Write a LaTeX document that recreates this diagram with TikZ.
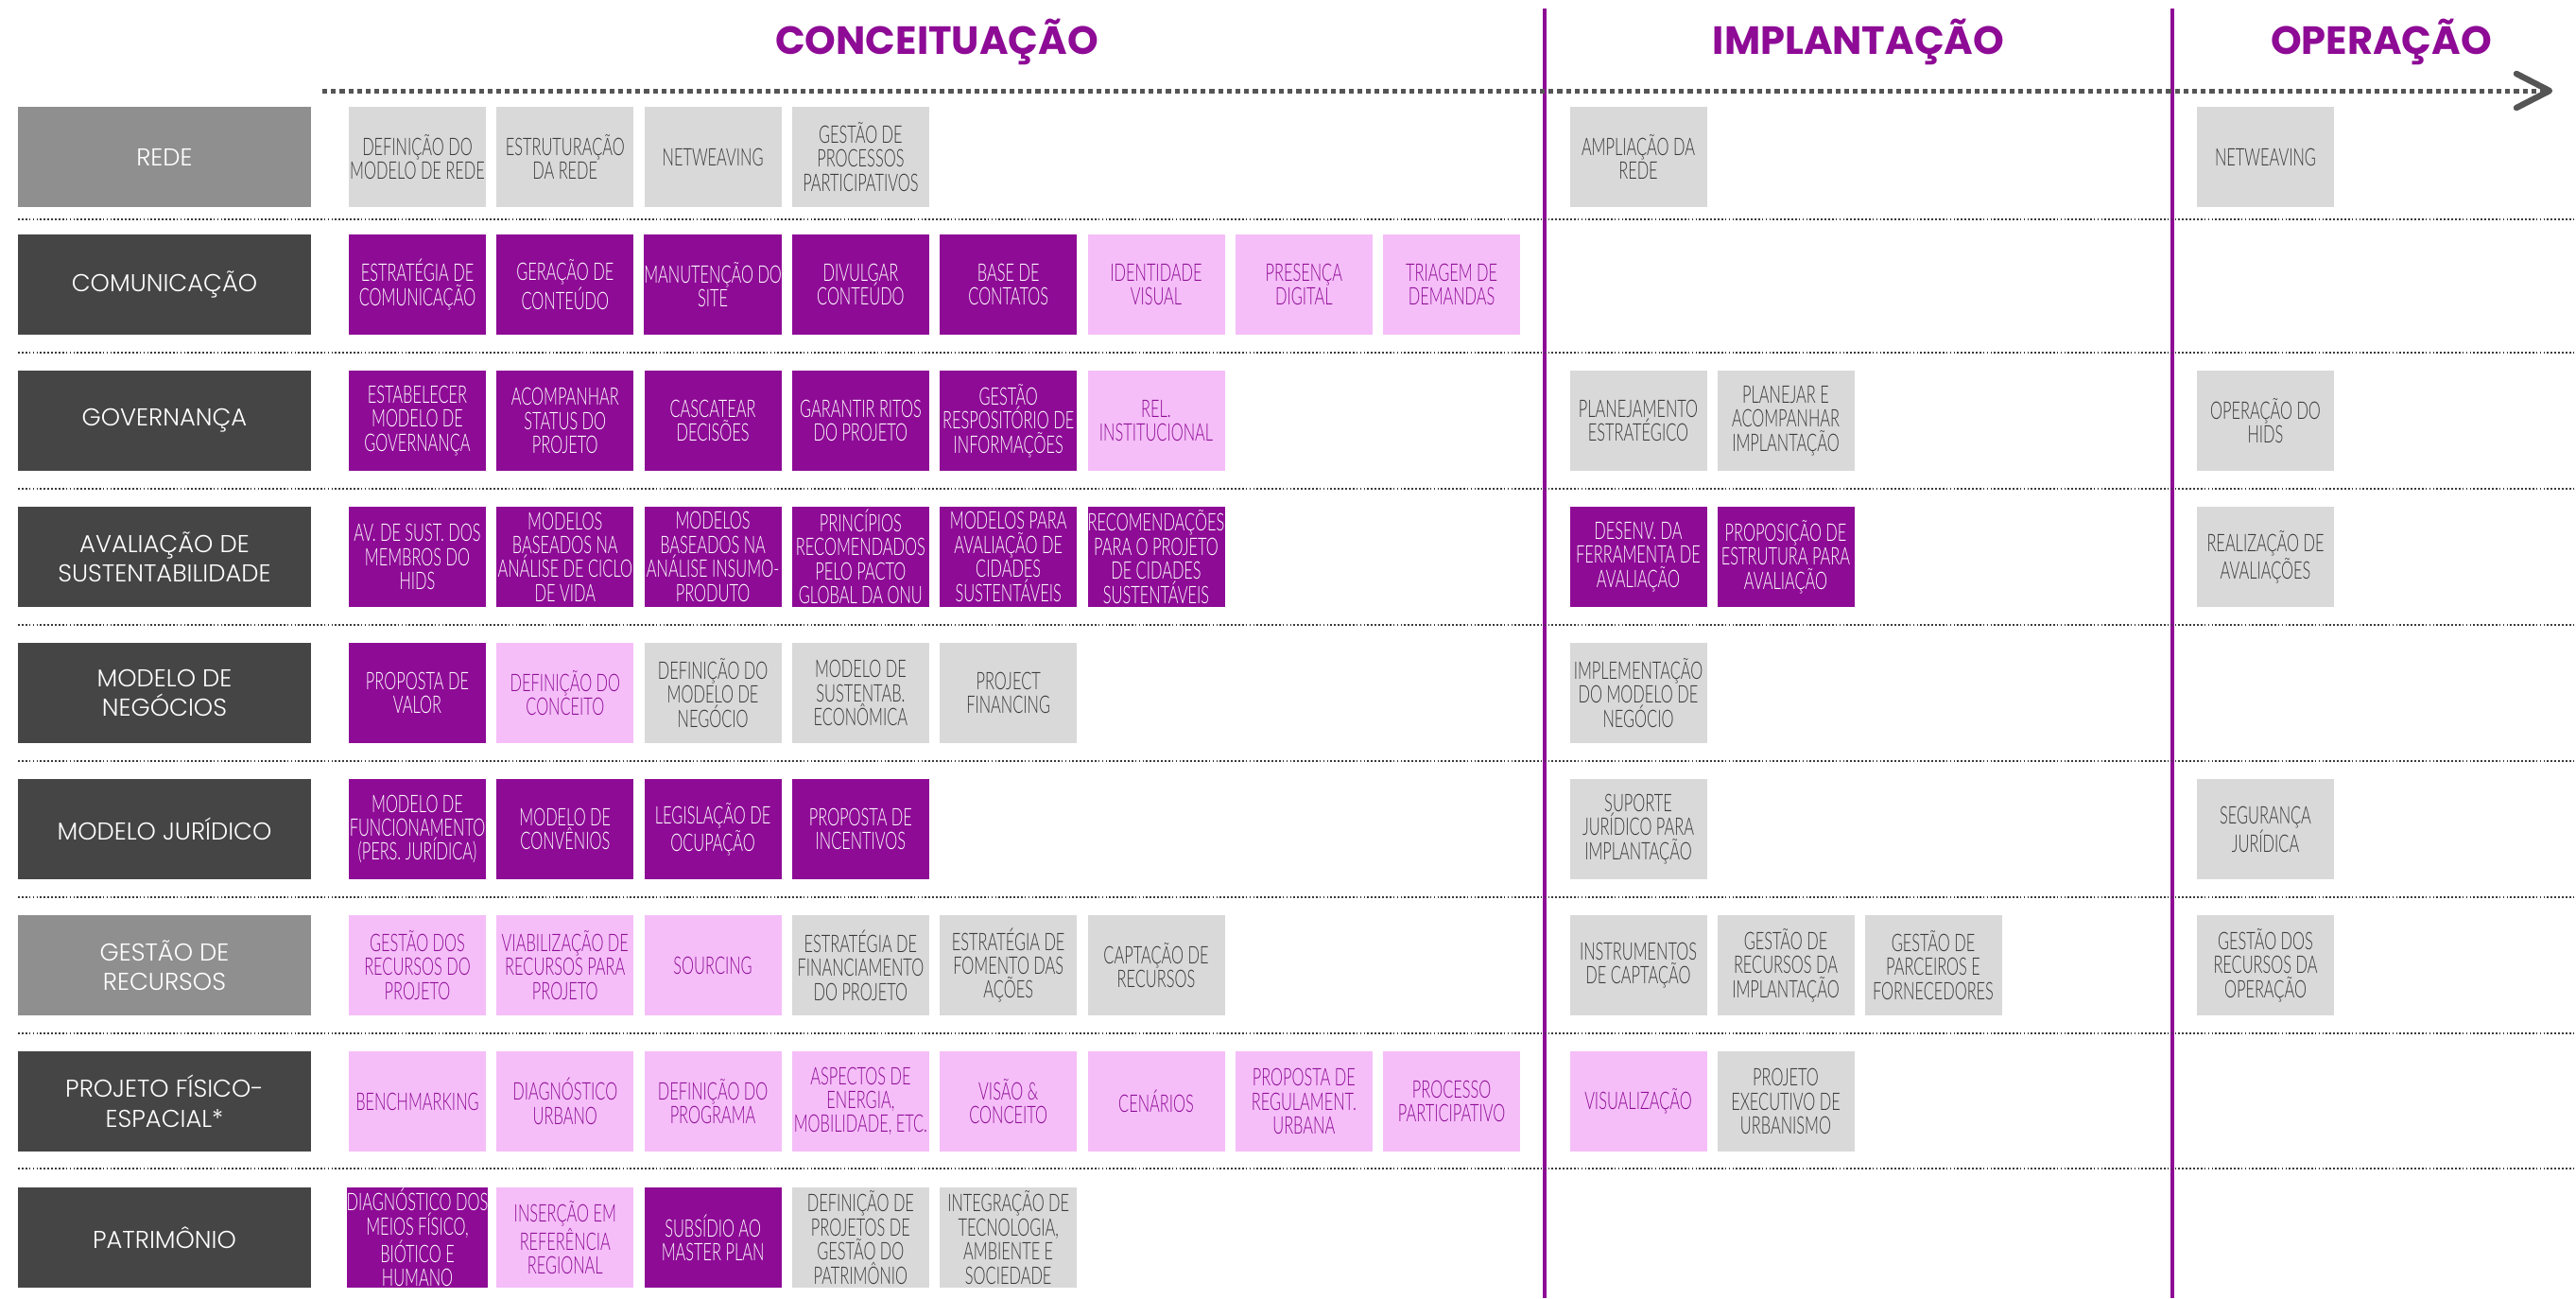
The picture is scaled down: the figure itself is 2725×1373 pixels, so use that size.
\documentclass[tikz,border=0pt]{standalone}
\usepackage{fontspec}
\setmainfont{Poppins}
\newfontfamily\catfont{Poppins Light}
\newfontfamily\boxfont[FakeStretch=0.64]{Lato Light}
\usepackage{tikz}
\definecolor{hidspurple}{RGB}{142, 11, 150}
\definecolor{hidspink}{RGB}{245, 190, 248}
\definecolor{hidsgray}{RGB}{217, 217, 217}
\definecolor{hidsdark}{RGB}{69, 69, 69}
\definecolor{hidsmid}{RGB}{143, 143, 143}
\definecolor{hidstext}{RGB}{58, 58, 58}
\definecolor{hidsline}{RGB}{85, 85, 85}

\tikzset{
  task/.style={minimum width=72.5pt, minimum height=53pt, inner sep=0pt, align=center,
    font=\boxfont\fontsize{12.8}{12.7}\selectfont},
  dk/.style={task, fill=hidspurple, text=white},
  pk/.style={task, fill=hidspink, text=hidspurple},
  gr/.style={task, fill=hidsgray, text=hidstext},
  cat/.style={minimum width=155pt, minimum height=53pt, inner sep=0pt, align=center,
    fill=hidsdark, text=white, font=\catfont\fontsize{12.9}{15.8}\selectfont},
  catmid/.style={cat, fill=hidsmid},
  phase/.style={anchor=base, text=hidspurple, font=\fontsize{20.8}{24}\selectfont\bfseries},
  phaseline/.style={draw=hidspurple, line width=2.25pt},
  sep/.style={draw=hidstext, line width=0.85pt, dash pattern=on 0.85pt off 1.1pt},
  timeline/.style={draw=hidsline, line width=2.5pt, dash pattern=on 2.6pt off 2pt},
  chevron/.style={draw=hidsline, line width=3.2pt, line cap=round, line join=round}
}

\begin{document}
\begin{tikzpicture}[x=0.5pt, y=-0.5pt]
\useasboundingbox (0,0) rectangle (2725,1373);

% fases
\node[phase] (conc) at (991,57) {CONCEITUAÇÃO};
\node[phase] (impl) at (1966,57) {IMPLANTAÇÃO};
\node[phase] (oper) at (2519,57) {OPERAÇÃO};
\draw[phaseline] (1634,9) -- (1634,1373);
\draw[phaseline] (2298,9) -- (2298,1373);

% linha do tempo
\coordinate (t0) at (341,96);
\coordinate (t1) at (2697,96);
\draw[timeline] (t0) -- ([xshift=-3pt]t1);
\draw[chevron] ([xshift=-17.5pt,yshift=9pt]t1) -- (t1) -- ([xshift=-17.5pt,yshift=-9pt]t1);

% separadores
\draw[sep] (19,232) -- (2725,232);
\draw[sep] (19,373) -- (2725,373);
\draw[sep] (19,517) -- (2725,517);
\draw[sep] (19,661) -- (2725,661);
\draw[sep] (19,805) -- (2725,805);
\draw[sep] (19,949) -- (2725,949);
\draw[sep] (19,1093) -- (2725,1093);
\draw[sep] (19,1236) -- (2725,1236);

% REDE
\node[catmid] (rede) at (174,166) {REDE};
\node[gr] (rede1) at (441.5,166) {DEFINIÇÃO DO\\MODELO DE REDE};
\node[gr] (rede2) at (597.8,166) {ESTRUTURAÇÃO\\DA REDE};
\node[gr] (rede3) at (754.1,166) {NETWEAVING};
\node[gr] (rede4) at (910.4,166) {GESTÃO DE\\PROCESSOS\\PARTICIPATIVOS};
\node[gr] (rede5) at (1733,166) {AMPLIAÇÃO DA\\REDE};
\node[gr] (rede6) at (2396.5,166) {NETWEAVING};

% COMUNICACAO
\node[cat] (com) at (174,301) {COMUNICAÇÃO};
\node[dk] (com1) at (441.5,301) {ESTRATÉGIA DE\\COMUNICAÇÃO};
\node[dk] (com2) at (597.8,301) {GERAÇÃO DE\\CONTEÚDO};
\node[dk] (com3) at (754.1,301) {MANUTENÇÃO DO\\SITE};
\node[dk] (com4) at (910.4,301) {DIVULGAR\\CONTEÚDO};
\node[dk] (com5) at (1066.7,301) {BASE DE\\CONTATOS};
\node[pk] (com6) at (1223,301) {IDENTIDADE\\VISUAL};
\node[pk] (com7) at (1379.3,301) {PRESENÇA\\DIGITAL};
\node[pk] (com8) at (1535.6,301) {TRIAGEM DE\\DEMANDAS};

% GOVERNANCA
\node[cat] (gov) at (174,445) {GOVERNANÇA};
\node[dk] (gov1) at (441.5,445) {ESTABELECER\\MODELO DE\\GOVERNANÇA};
\node[dk] (gov2) at (597.8,445) {ACOMPANHAR\\STATUS DO\\PROJETO};
\node[dk] (gov3) at (754.1,445) {CASCATEAR\\DECISÕES};
\node[dk] (gov4) at (910.4,445) {GARANTIR RITOS\\DO PROJETO};
\node[dk] (gov5) at (1066.7,445) {GESTÃO\\RESPOSITÓRIO DE\\INFORMAÇÕES};
\node[pk] (gov6) at (1223,445) {REL.\\INSTITUCIONAL};
\node[gr] (gov7) at (1733,445) {PLANEJAMENTO\\ESTRATÉGICO};
\node[gr] (gov8) at (1889,445) {PLANEJAR E\\ACOMPANHAR\\IMPLANTAÇÃO};
\node[gr] (gov9) at (2396.5,445) {OPERAÇÃO DO\\HIDS};

% AVALIACAO
\node[cat] (aval) at (174,589) {AVALIAÇÃO DE\\SUSTENTABILIDADE};
\node[dk] (aval1) at (441.5,589) {AV. DE SUST. DOS\\MEMBROS DO\\HIDS};
\node[dk] (aval2) at (597.8,589) {MODELOS\\BASEADOS NA\\ANÁLISE DE CICLO\\DE VIDA};
\node[dk] (aval3) at (754.1,589) {MODELOS\\BASEADOS NA\\ANÁLISE INSUMO-\\PRODUTO};
\node[dk] (aval4) at (910.4,589) {PRINCÍPIOS\\RECOMENDADOS\\PELO PACTO\\GLOBAL DA ONU};
\node[dk] (aval5) at (1066.7,589) {MODELOS PARA\\AVALIAÇÃO DE\\CIDADES\\SUSTENTÁVEIS};
\node[dk] (aval6) at (1223,589) {RECOMENDAÇÕES\\PARA O PROJETO\\DE CIDADES\\SUSTENTÁVEIS};
\node[dk] (aval7) at (1733,589) {DESENV. DA\\FERRAMENTA DE\\AVALIAÇÃO};
\node[dk] (aval8) at (1889,589) {PROPOSIÇÃO DE\\ESTRUTURA PARA\\AVALIAÇÃO};
\node[gr] (aval9) at (2396.5,589) {REALIZAÇÃO DE\\AVALIAÇÕES};

% MODELO DE NEGOCIOS
\node[cat] (neg) at (174,733) {MODELO DE\\NEGÓCIOS};
\node[dk] (neg1) at (441.5,733) {PROPOSTA DE\\VALOR};
\node[pk] (neg2) at (597.8,733) {DEFINIÇÃO DO\\CONCEITO};
\node[gr] (neg3) at (754.1,733) {DEFINIÇÃO DO\\MODELO DE\\NEGÓCIO};
\node[gr] (neg4) at (910.4,733) {MODELO DE\\SUSTENTAB.\\ECONÔMICA};
\node[gr] (neg5) at (1066.7,733) {PROJECT\\FINANCING};
\node[gr] (neg6) at (1733,733) {IMPLEMENTAÇÃO\\DO MODELO DE\\NEGÓCIO};

% MODELO JURIDICO
\node[cat] (jur) at (174,877) {MODELO JURÍDICO};
\node[dk] (jur1) at (441.5,877) {MODELO DE\\FUNCIONAMENTO\\(PERS. JURÍDICA)};
\node[dk] (jur2) at (597.8,877) {MODELO DE\\CONVÊNIOS};
\node[dk] (jur3) at (754.1,877) {LEGISLAÇÃO DE\\OCUPAÇÃO};
\node[dk] (jur4) at (910.4,877) {PROPOSTA DE\\INCENTIVOS};
\node[gr] (jur5) at (1733,877) {SUPORTE\\JURÍDICO PARA\\IMPLANTAÇÃO};
\node[gr] (jur6) at (2396.5,877) {SEGURANÇA\\JURÍDICA};

% GESTAO DE RECURSOS
\node[catmid] (rec) at (174,1021) {GESTÃO DE\\RECURSOS};
\node[pk] (rec1) at (441.5,1021) {GESTÃO DOS\\RECURSOS DO\\PROJETO};
\node[pk] (rec2) at (597.8,1021) {VIABILIZAÇÃO DE\\RECURSOS PARA\\PROJETO};
\node[pk] (rec3) at (754.1,1021) {SOURCING};
\node[gr] (rec4) at (910.4,1021) {ESTRATÉGIA DE\\FINANCIAMENTO\\DO PROJETO};
\node[gr] (rec5) at (1066.7,1021) {ESTRATÉGIA DE\\FOMENTO DAS\\AÇÕES};
\node[gr] (rec6) at (1223,1021) {CAPTAÇÃO DE\\RECURSOS};
\node[gr] (rec7) at (1733,1021) {INSTRUMENTOS\\DE CAPTAÇÃO};
\node[gr] (rec8) at (1889,1021) {GESTÃO DE\\RECURSOS DA\\IMPLANTAÇÃO};
\node[gr] (rec9) at (2045,1021) {GESTÃO DE\\PARCEIROS E\\FORNECEDORES};
\node[gr] (rec10) at (2396.5,1021) {GESTÃO DOS\\RECURSOS DA\\OPERAÇÃO};

% PROJETO FISICO-ESPACIAL
\node[cat] (proj) at (174,1165) {PROJETO FÍSICO-\\ESPACIAL*};
\node[pk] (proj1) at (441.5,1165) {BENCHMARKING};
\node[pk] (proj2) at (597.8,1165) {DIAGNÓSTICO\\URBANO};
\node[pk] (proj3) at (754.1,1165) {DEFINIÇÃO DO\\PROGRAMA};
\node[pk] (proj4) at (910.4,1165) {ASPECTOS DE\\ENERGIA,\\MOBILIDADE, ETC.};
\node[pk] (proj5) at (1066.7,1165) {VISÃO \&\\CONCEITO};
\node[pk] (proj6) at (1223,1165) {CENÁRIOS};
\node[pk] (proj7) at (1379.3,1165) {PROPOSTA DE\\REGULAMENT.\\URBANA};
\node[pk] (proj8) at (1535.6,1165) {PROCESSO\\PARTICIPATIVO};
\node[pk] (proj9) at (1733,1165) {VISUALIZAÇÃO};
\node[gr] (proj10) at (1889,1165) {PROJETO\\EXECUTIVO DE\\URBANISMO};

% PATRIMONIO
\node[cat] (pat) at (174,1309) {PATRIMÔNIO};
\node[dk] (pat1) at (441.5,1309) {DIAGNÓSTICO DOS\\MEIOS FÍSICO,\\BIÓTICO E\\HUMANO};
\node[pk] (pat2) at (597.8,1309) {INSERÇÃO EM\\REFERÊNCIA\\REGIONAL};
\node[dk] (pat3) at (754.1,1309) {SUBSÍDIO AO\\MASTER PLAN};
\node[gr] (pat4) at (910.4,1309) {DEFINIÇÃO DE\\PROJETOS DE\\GESTÃO DO\\PATRIMÔNIO};
\node[gr] (pat5) at (1066.7,1309) {INTEGRAÇÃO DE\\TECNOLOGIA,\\AMBIENTE E\\SOCIEDADE};
\end{tikzpicture}
\end{document}
